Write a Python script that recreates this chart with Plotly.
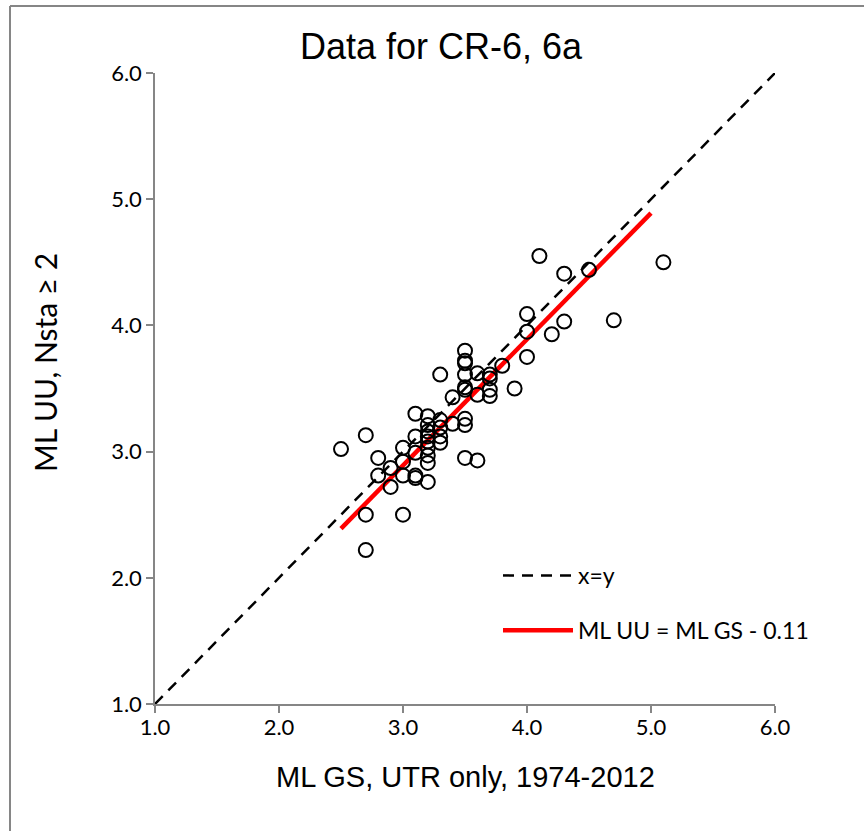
import plotly.graph_objects as go

# ---- data ----
gs_ml = [2.5, 2.7, 2.7, 2.7, 2.8, 2.8, 2.9, 2.9, 3.0, 3.0, 3.0, 3.0,
         3.1, 3.1, 3.1, 3.1, 3.1,
         3.2, 3.2, 3.2, 3.2, 3.2, 3.2, 3.2, 3.2, 3.2,
         3.3, 3.3, 3.3, 3.3, 3.3, 3.4, 3.4,
         3.5, 3.5, 3.5, 3.5, 3.5, 3.5, 3.5, 3.5, 3.5,
         3.6, 3.6, 3.6, 3.7, 3.7, 3.7, 3.7, 3.8, 3.9,
         4.0, 4.0, 4.0, 4.1, 4.2, 4.3, 4.3, 4.5, 4.7, 5.1]
uu_ml = [3.02, 3.13, 2.50, 2.22, 2.95, 2.81, 2.87, 2.72, 3.03, 2.92, 2.81, 2.50,
         3.30, 3.12, 2.99, 2.81, 2.79,
         3.28, 3.21, 3.16, 3.12, 3.08, 3.03, 2.97, 2.91, 2.76,
         3.61, 3.25, 3.19, 3.12, 3.07, 3.43, 3.22,
         3.80, 3.72, 3.70, 3.61, 3.51, 3.49, 3.26, 3.21, 2.95,
         3.62, 3.45, 2.93, 3.61, 3.58, 3.49, 3.44, 3.68, 3.50,
         4.09, 3.95, 3.75, 4.55, 3.93, 4.41, 4.03, 4.44, 4.04, 4.50]

xy_line_x = [1.0, 6.0]
xy_line_y = [1.0, 6.0]
fit_x = [2.5, 5.0]
offset = 0.11
fit_y = [v - offset for v in fit_x]

tick_vals = [1.0, 2.0, 3.0, 4.0, 5.0, 6.0]
tick_text = ["1.0", "2.0", "3.0", "4.0", "5.0", "6.0"]

title_text = "Data for CR-6, 6a"
x_title = "ML GS, UTR only, 1974-2012"
y_title = "ML UU, Nsta ≥ 2"
legend_xy = "x=y"
legend_fit = "ML UU = ML GS - 0.11"

# ---- figure ----
W, H = 864, 831
L, R, T, B = 155, 89, 73, 127
pw, ph = W - L - R, H - T - B

def px_x(p):
    return (p - L) / pw

def px_y(p):
    return (H - B - p) / ph

GRAY = "#868686"
CAL = "Lato, Carlito, Calibri, sans-serif"
ARIAL = "Liberation Sans, Arial, sans-serif"
tick_font = dict(family=CAL, size=22, color="#000000")

fig = go.Figure()
fig.add_trace(go.Scatter(
    x=xy_line_x, y=xy_line_y, mode="lines", name=legend_xy,
    line=dict(color="#000000", width=2.5, dash="11px,8px"),
    legendgroup="a", showlegend=True))
fig.add_trace(go.Scatter(
    x=fit_x, y=fit_y, mode="lines", name=legend_fit,
    line=dict(color="#ff0000", width=4.5),
    legendgroup="b", showlegend=True))
fig.add_trace(go.Scatter(
    x=gs_ml, y=uu_ml, mode="markers", showlegend=False,
    marker=dict(symbol="circle-open", size=14, color="#000000",
                line=dict(color="#000000", width=2))))

axis_common = dict(
    range=[1, 6], tickvals=tick_vals, ticktext=tick_text,
    showgrid=False, zeroline=False, showline=True,
    linecolor=GRAY, linewidth=1.5, ticks="outside", ticklen=7,
    tickcolor=GRAY, tickwidth=1.5, tickfont=tick_font, mirror=False,
)

fig.update_layout(
    width=W, height=H,
    margin=dict(l=L, r=R, t=T, b=B),
    paper_bgcolor="#ffffff", plot_bgcolor="#ffffff",
    title=dict(text=title_text, x=441 / W, xref="container", xanchor="center",
               y=1 - 46 / H, yref="container", yanchor="middle",
               font=dict(family=ARIAL, size=36, color="#000000")),
    xaxis=dict(**axis_common, ticklabelstandoff=-4),
    yaxis=dict(**axis_common),
    annotations=[
        dict(text=x_title, xref="paper", yref="paper", x=0.5, y=px_y(777),
             xanchor="center", yanchor="middle", showarrow=False,
             font=dict(family=ARIAL, size=29, color="#000000")),
        dict(text=y_title, xref="paper", yref="paper", x=px_x(45), y=px_y(363),
             xanchor="center", yanchor="middle", showarrow=False, textangle=-90,
             font=dict(family=CAL, size=30, color="#000000")),
    ],
    legend=dict(x=px_x(498), y=px_y(554), xanchor="left", yanchor="top",
                bgcolor="rgba(0,0,0,0)", itemwidth=70, tracegroupgap=22,
                font=dict(family=CAL, size=23, color="#000000")),
    shapes=[
        dict(type="line", xref="paper", yref="paper",
             x0=px_x(10), y0=px_y(6), x1=px_x(880), y1=px_y(6),
             line=dict(color=GRAY, width=2)),
        dict(type="line", xref="paper", yref="paper",
             x0=px_x(10), y0=px_y(6), x1=px_x(10), y1=px_y(850),
             line=dict(color=GRAY, width=2)),
    ],
)

fig.write_html("out.html")
